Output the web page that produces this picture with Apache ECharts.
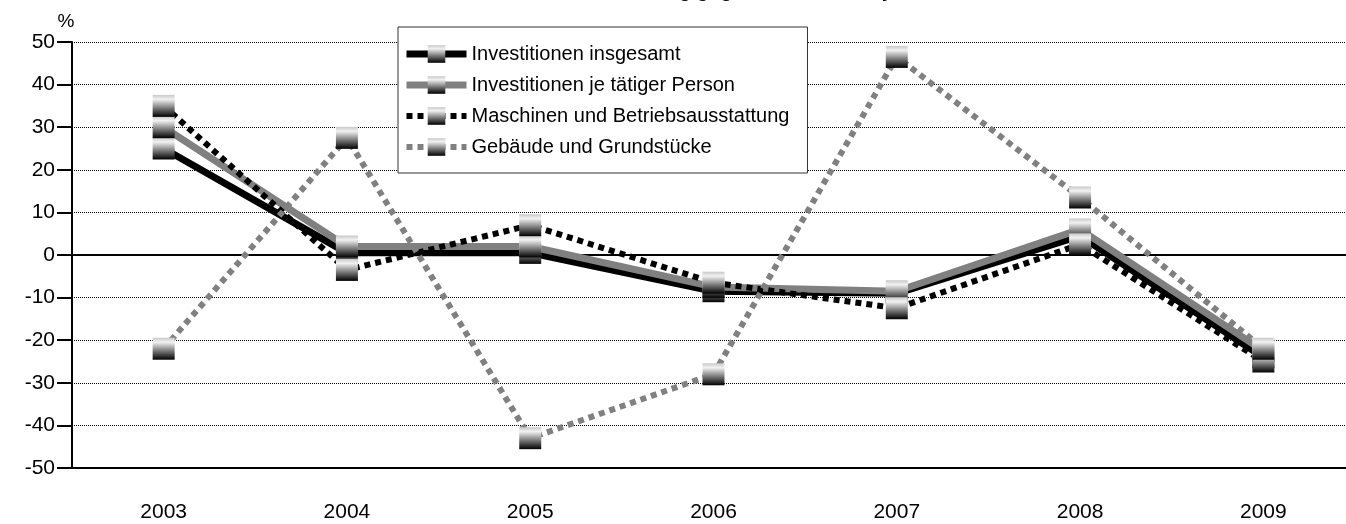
<!DOCTYPE html>
<html>
<head>
<meta charset="utf-8">
<script src="https://cdn.jsdelivr.net/npm/echarts@6/dist/echarts.min.js"></script>
<style>
  html, body { margin: 0; padding: 0; background: #fff; overflow: hidden; }
  /* the plot runs a few pixels past the right edge, as in the source picture */
  #chart { width: 1355px; height: 524px; }
</style>
</head>
<body>
<div id="chart"></div>
<script>
const years = ['2003', '2004', '2005', '2006', '2007', '2008', '2009']
const insgesamt = [25, 0.5, 0.5, -8.5, -9, 4.5, -24]
const jePerson = [30, 2, 2, -7.5, -8.5, 6, -22.5]
const maschinen = [35, -3.5, 7, -6.5, -12.5, 2.5, -25]
const gebaeude = [-22, 27.5, -43, -28, 46.5, 13.5, -22]

const FONT = 'Liberation Sans, Arial, sans-serif'

// square markers shaded light at the top, black at the bottom
const markerFill = new echarts.graphic.LinearGradient(0, 0, 0, 1, [
  { offset: 0, color: '#c8c8c8' },
  { offset: 0.2, color: '#f2f2f2' },
  { offset: 1, color: '#000000' },
])

const styles = [
  { name: 'Investitionen insgesamt', data: insgesamt, color: '#000000', width: 7, type: 'solid' },
  { name: 'Investitionen je tätiger Person', data: jePerson, color: '#808080', width: 7, type: 'solid' },
  { name: 'Maschinen und Betriebsausstattung', data: maschinen, color: '#000000', width: 6, type: [6, 5] },
  { name: 'Gebäude und Grundstücke', data: gebaeude, color: '#808080', width: 6, type: [6, 5] },
]

const chart = echarts.init(document.getElementById('chart'))
chart.setOption({
  animation: false,
  textStyle: { fontFamily: FONT },
  title: {
    text: 'Veränderung gegenüber dem Vorjahr',
    left: 564,
    top: -24,
    textStyle: { fontSize: 20, fontWeight: 'bold', color: '#000', fontFamily: FONT },
  },
  grid: { left: 72, right: 0, top: 42, bottom: 56 },
  legend: {
    orient: 'vertical',
    left: 398,
    top: 27,
    padding: [16, 18, 15, 5],
    itemWidth: 60,
    itemHeight: 22,
    itemGap: 9,
    backgroundColor: '#fff',
    borderColor: '#333',
    borderWidth: 1,
    textStyle: { fontSize: 20, color: '#000', fontFamily: FONT, lineHeight: 22 },
    data: styles.map((s) => ({
      name: s.name,
      itemStyle: { color: markerFill },
      lineStyle: { color: s.color, width: s.width, type: s.type },
    })),
  },
  xAxis: [
    {
      type: 'category',
      data: years,
      position: 'bottom',
      axisLine: { onZero: false, lineStyle: { color: '#000', width: 2 } },
      axisTick: { alignWithLabel: true, length: 15, lineStyle: { color: '#000', width: 2 } },
      axisLabel: { color: '#000', fontSize: 21, margin: 34 },
      splitLine: { show: false },
    },
    {
      // zero line
      type: 'category',
      data: years,
      position: 'bottom',
      axisLine: { onZero: true, lineStyle: { color: '#000', width: 2 } },
      axisTick: { show: false },
      axisLabel: { show: false },
      splitLine: { show: false },
    },
  ],
  yAxis: {
    type: 'value',
    min: -50,
    max: 50,
    interval: 10,
    name: '%',
    nameGap: 10,
    nameTextStyle: { color: '#000', fontSize: 19, align: 'center', padding: [0, 12, 0, 0] },
    axisLine: { show: true, lineStyle: { color: '#000', width: 2 } },
    axisTick: { show: true, length: 15, lineStyle: { color: '#000', width: 2 } },
    axisLabel: { color: '#000', fontSize: 21, margin: 17 },
    splitLine: { lineStyle: { color: '#000', width: 1, type: 'dotted' } },
  },
  series: styles.map((s) => ({
    name: s.name,
    type: 'line',
    data: s.data,
    symbol: 'rect',
    symbolSize: 22,
    itemStyle: { color: markerFill },
    lineStyle: { color: s.color, width: s.width, type: s.type, cap: 'butt' },
    emphasis: { disabled: true },
  })),
})
</script>
</body>
</html>
